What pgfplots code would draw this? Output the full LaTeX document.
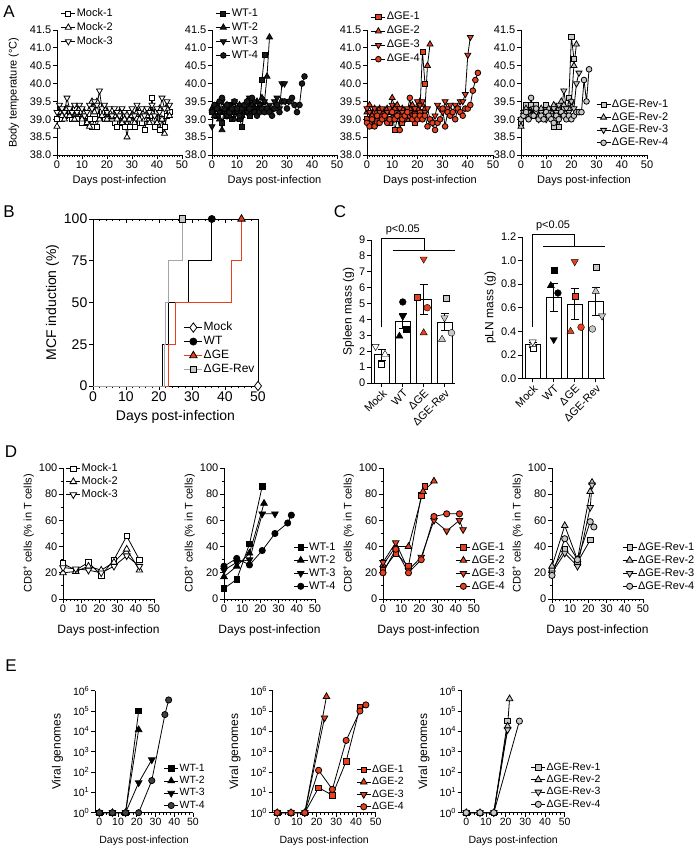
\documentclass[border=0pt]{standalone}
\usepackage{fontspec}
\setmainfont{Liberation Sans}
\usepackage{pgfplots}
\pgfplotsset{compat=1.18}
\definecolor{gred}{RGB}{232,64,28}
\definecolor{ggray}{RGB}{200,200,200}
\definecolor{lgray}{RGB}{165,165,165}
\definecolor{wtc}{RGB}{25,25,25}
\newcommand{\fs}[1]{\fontsize{#1}{#1}\selectfont}
\def\mscale{1}
\pgfplotsset{
  SQ/.style={mark=square*, mark size=2.4pt, every mark/.append style={fill=#1, draw=black, solid, scale=\mscale}},
  TR/.style={mark=triangle*, mark size=3.3pt, every mark/.append style={fill=#1, draw=black, solid, scale=\mscale}},
  IT/.style={mark=triangle*, mark size=3.3pt, every mark/.append style={fill=#1, draw=black, solid, rotate=180, scale=\mscale}},
  CI/.style={mark=*, mark size=2.7pt, every mark/.append style={fill=#1, draw=black, solid, scale=\mscale}},
  DI/.style={mark=diamond*, mark size=3.6pt, every mark/.append style={fill=#1, draw=black, solid, scale=\mscale}},
  LN/.style={black, line width=0.8pt},
  gp/.style={scale only axis, axis lines*=left, axis line style={line width=0.9pt, black},
    tick align=outside, tick style={line width=0.8pt, black},
    major tick length=4pt, minor tick length=2.3pt, clip=false,
    /pgf/number format/assume math mode=true,
    tick label style={font=\fs{11}, inner sep=1.5pt},
    label style={font=\fs{11}},
    legend style={draw=none, fill=none, font=\fs{11}, row sep=1.5pt, inner sep=0pt, anchor=north west,
      nodes={inner sep=1pt, text height=7.5pt, text depth=2pt}},
    legend cell align=left,
    legend image code/.code={\draw[mark repeat=2,mark phase=2,##1] plot coordinates {(0pt,0pt) (7pt,0pt) (14pt,0pt)};},
  },
  pA/.style={gp, anchor=south west, width=125pt, height=125pt, xmin=0, xmax=50, ymin=38, ymax=41.5,
    xtick={0,10,20,30,40,50}, minor x tick num=9, ytick={38,38.5,39,39.5,40,40.5,41,41.5},
    yticklabel style={/pgf/number format/fixed, /pgf/number format/fixed zerofill, /pgf/number format/precision=1},
    xlabel={Days post-infection}, xlabel style={yshift=-2pt}, legend style={row sep=2.5pt}},
  pC/.style={gp, anchor=south west, xtick={0,1,2,3}, xticklabels={Mock,WT,ΔGE,ΔGE-Rev},
    xticklabel style={rotate=45, anchor=north east, font=\fs{11}, inner sep=1pt},
    label style={font=\fs{12}}},
  pD/.style={gp, anchor=south west, width=91pt, height=131pt, xmin=0, xmax=50, ymin=0, ymax=100,
    xtick={0,10,20,30,40,50}, minor x tick num=4, ytick={0,20,40,60,80,100}, minor y tick num=1,
    xlabel={Days post-infection}, xlabel style={font=\fs{12}, yshift=-7pt},
    ylabel={CD8\textsuperscript{+} cells (\% in T cells)}, legend style={row sep=1.5pt}},
  pE/.style={gp, anchor=south west, height=122pt, xmin=-2.3, xmax=50, ymin=1, ymax=1000000,
    xtick={0,10,20,30,40,50}, minor x tick num=4,
    ytick={1,10,100,1000,10000,100000,1000000},
    yticklabels={10\textsuperscript{0},10\textsuperscript{1},10\textsuperscript{2},10\textsuperscript{3},10\textsuperscript{4},10\textsuperscript{5},10\textsuperscript{6}},
    yminorticks=false, tick label style={font=\fs{10.5}},
    xlabel={Days post-infection}, xlabel style={font=\fs{10.5}, yshift=-5pt}, ylabel={Viral genomes}, ylabel style={font=\fs{12}},
    ylabel shift=5pt, legend style={font=\fs{10.5}, row sep=0.8pt}},
}
\begin{document}
\begin{tikzpicture}
\path[use as bounding box] (0,0) rectangle (700pt,847pt);
\node[font=\fs{17}] at (9pt,835pt) {A};
\node[font=\fs{17}] at (9pt,635pt) {B};
\node[font=\fs{17}] at (340pt,635pt) {C};
\node[font=\fs{17}] at (11pt,395pt) {D};
\node[font=\fs{17}] at (11pt,181pt) {E};

% ================= A =================
\def\mscale{1.05}
\begin{axis}[pA, at={(57pt,692pt)}, ylabel={Body temperature (°C)}, ylabel style={font=\fs{11}}, ylabel shift=6pt,
  legend style={at={(0.03,1.18)}}]
\addplot[LN, SQ=white] coordinates {(0,39.0)(1,39.2)(2,39.0)(3,39.1)(4,39.3)(5,39.2)(6,39.0)(7,39.3)(8,39.0)(9,39.2)(10,38.9)(11,39.1)(12,38.9)(13,39.0)(14,38.8)(15,39.0)(16,38.8)(17,39.1)(18,39.2)(19,39.0)(20,39.2)(21,39.0)(22,39.1)(23,38.9)(24,38.8)(25,39.1)(26,38.9)(27,38.8)(28,39.0)(29,38.8)(30,39.1)(31,38.8)(32,39.0)(33,38.9)(34,38.9)(35,38.7)(36,39.0)(37,39.1)(38,39.6)(39,38.8)(40,39.2)(41,38.7)(42,39.0)(43,38.8)(44,39.1)(45,39.2)};
\addlegendentry{Mock-1}
\addplot[LN, TR=white] coordinates {(0,38.8)(1,39.2)(2,39.1)(3,39.0)(4,39.3)(5,39.1)(6,39.2)(7,39.0)(8,39.2)(9,39.3)(10,39.0)(11,39.2)(12,38.9)(13,38.8)(14,39.5)(15,39.2)(16,39.5)(17,39.0)(18,39.1)(19,39.3)(20,39.0)(21,39.2)(22,39.0)(23,39.1)(24,39.0)(25,39.2)(26,38.9)(27,39.0)(28,38.5)(29,39.0)(30,39.1)(31,38.9)(32,39.2)(33,39.0)(34,39.2)(35,39.0)(36,39.1)(37,38.9)(38,39.2)(39,39.0)(40,38.9)(41,39.3)(42,39.0)(43,38.6)(44,39.3)(45,39.1)};
\addlegendentry{Mock-2}
\addplot[LN, IT=white] coordinates {(0,39.2)(1,39.4)(2,39.3)(3,39.2)(4,39.6)(5,39.3)(6,39.2)(7,39.4)(8,39.2)(9,39.4)(10,39.3)(11,39.1)(12,39.2)(13,39.4)(14,39.3)(15,39.5)(16,39.4)(17,39.8)(18,39.3)(19,39.4)(20,39.2)(21,39.3)(22,39.1)(23,39.3)(24,39.2)(25,39.1)(26,39.3)(27,39.2)(28,39.1)(29,39.2)(30,39.3)(31,39.1)(32,39.4)(33,39.2)(34,39.3)(35,39.1)(36,39.3)(37,39.2)(38,39.4)(39,39.1)(40,39.3)(41,39.2)(42,39.6)(43,39.3)(44,39.5)(45,39.4)};
\addlegendentry{Mock-3}
\end{axis}

\begin{axis}[pA, at={(212pt,692pt)}, legend style={at={(0.03,1.18)}}]
\addplot[LN, SQ=wtc] coordinates {(0,39.2)(1,39.3)(2,39.1)(3,39.2)(4,38.9)(5,39.3)(6,39.1)(7,39.4)(8,39.0)(9,39.2)(10,39.3)(11,39.0)(12,38.8)(13,39.2)(14,39.3)(15,39.1)(16,39.4)(17,39.2)(18,39.3)(19,39.4)(20,40.1)(21,40.8)};
\addlegendentry{WT-1}
\addplot[LN, TR=wtc] coordinates {(0,39.3)(1,39.1)(2,39.4)(3,39.0)(4,38.7)(5,39.2)(6,39.4)(7,39.1)(8,39.3)(9,39.0)(10,39.2)(11,39.4)(12,39.1)(13,39.3)(14,39.5)(15,39.2)(16,39.4)(17,39.3)(18,39.5)(19,39.4)(20,39.6)(21,39.5)(22,40.2)(23,41.3)};
\addlegendentry{WT-2}
\addplot[LN, IT=wtc] coordinates {(0,38.8)(1,39.3)(2,39.4)(3,39.2)(4,39.5)(5,39.3)(6,39.1)(7,39.4)(8,39.3)(9,39.5)(10,39.2)(11,39.4)(12,39.1)(13,39.3)(14,39.2)(15,39.6)(16,39.3)(17,39.5)(18,39.2)(19,39.4)(20,39.3)(21,39.5)(22,39.3)(23,39.4)(24,39.3)(25,39.5)(26,39.6)(27,39.3)(28,40.0)(29,40.0)};
\addlegendentry{WT-3}
\addplot[LN, CI=wtc] coordinates {(0,39.2)(1,39.4)(2,39.3)(3,39.5)(4,39.6)(5,39.3)(6,39.4)(7,39.2)(8,39.3)(9,39.5)(10,39.3)(11,39.1)(12,39.3)(13,39.4)(14,39.5)(15,39.3)(16,39.6)(17,39.2)(18,39.1)(19,39.2)(20,39.3)(21,39.2)(22,39.3)(23,39.2)(24,39.1)(25,39.3)(26,39.4)(27,39.2)(28,39.5)(29,39.5)(30,39.3)(31,39.5)(32,39.6)(33,39.4)(34,39.2)(35,39.4)(36,40.0)(37,40.2)};
\addlegendentry{WT-4}
\end{axis}

\begin{axis}[pA, at={(367pt,692pt)}, width=126pt, legend style={at={(0.03,1.15)}}]
\addplot[LN, SQ=gred] coordinates {(0,39.0)(1,38.9)(2,39.1)(3,39.2)(4,38.9)(5,39.0)(6,39.1)(7,39.0)(8,39.2)(9,38.9)(10,39.2)(11,38.7)(12,39.0)(13,39.1)(14,38.9)(15,39.2)(16,39.0)(17,39.1)(18,39.2)(19,38.9)(20,39.3)(21,39.2)(22,40.9)(23,40.0)};
\addlegendentry{ΔGE-1}
\addplot[LN, TR=gred] coordinates {(0,39.2)(1,39.4)(2,39.1)(3,39.3)(4,39.0)(5,39.3)(6,39.2)(7,39.1)(8,39.3)(9,39.2)(10,39.6)(11,39.3)(12,39.4)(13,39.2)(14,39.3)(15,39.1)(16,39.2)(17,39.3)(18,39.4)(19,39.2)(20,39.3)(21,39.5)(22,39.4)(23,39.3)(24,40.5)(25,41.1)};
\addlegendentry{ΔGE-2}
\addplot[LN, IT=gred] coordinates {(0,39.3)(1,39.2)(2,39.0)(3,39.3)(4,39.1)(5,39.2)(6,39.3)(7,39.0)(8,39.2)(9,39.3)(10,39.4)(11,39.2)(12,39.1)(13,39.3)(14,39.2)(15,39.0)(16,39.3)(17,39.2)(18,39.1)(19,39.3)(20,39.5)(21,39.4)(22,39.5)(23,39.2)(24,39.3)(25,39.0)(26,38.9)(27,39.1)(28,39.4)(29,39.3)(30,39.2)(31,39.5)(32,39.3)(33,39.4)(34,39.2)(35,39.4)(36,39.3)(37,39.5)(38,39.5)(39,39.7)(40,40.8)(41,41.3)};
\addlegendentry{ΔGE-3}
\addplot[LN, CI=gred] coordinates {(0,38.9)(1,38.8)(2,39.0)(3,38.8)(4,39.1)(5,38.9)(6,39.0)(7,39.1)(8,38.9)(9,39.0)(10,39.2)(11,39.0)(12,39.1)(13,38.7)(14,39.0)(15,39.1)(16,39.2)(17,39.6)(18,39.0)(19,39.1)(20,39.0)(21,39.1)(22,39.0)(23,39.1)(24,38.8)(25,39.0)(26,38.9)(27,38.7)(28,38.9)(29,39.0)(30,39.3)(31,38.8)(32,39.2)(33,39.1)(34,39.2)(35,39.0)(36,39.3)(37,39.2)(38,39.1)(39,39.3)(40,39.3)(41,39.4)(42,39.8)(43,40.1)(44,40.3)};
\addlegendentry{ΔGE-4}
\end{axis}

\begin{axis}[pA, at={(521pt,692pt)}, width=126pt, legend style={at={(0.595,0.45)}, row sep=1.2pt}]
\addplot[LN, SQ=ggray] coordinates {(0,38.9)(1,39.1)(2,39.4)(3,39.2)(4,39.4)(5,39.1)(6,39.4)(7,39.2)(8,39.1)(9,39.2)(10,39.4)(11,39.2)(12,39.1)(13,38.8)(14,39.0)(15,38.8)(16,39.2)(17,39.3)(18,39.1)(19,39.6)(20,41.3)(21,40.7)};
\addlegendentry{ΔGE-Rev-1}
\addplot[LN, TR=ggray] coordinates {(0,38.8)(1,39.2)(2,39.3)(3,39.2)(4,39.1)(5,39.3)(6,39.2)(7,39.1)(8,39.3)(9,39.2)(10,39.1)(11,39.3)(12,39.2)(13,39.4)(14,39.1)(15,39.3)(16,39.5)(17,39.4)(18,39.2)(19,39.3)(20,39.5)(21,40.5)(22,41.1)};
\addlegendentry{ΔGE-Rev-2}
\addplot[LN, IT=ggray] coordinates {(0,39.0)(1,39.2)(2,39.1)(3,39.2)(4,39.1)(5,39.3)(6,39.2)(7,39.0)(8,39.2)(9,39.1)(10,39.0)(11,39.2)(12,39.1)(13,39.3)(14,39.2)(15,39.4)(16,39.2)(17,39.8)(18,39.3)(19,39.2)(20,39.5)(21,39.3)(22,40.0)(23,40.3)};
\addlegendentry{ΔGE-Rev-3}
\addplot[LN, CI=ggray] coordinates {(0,39.0)(1,39.1)(2,39.2)(3,39.0)(4,39.6)(5,39.1)(6,39.3)(7,39.0)(8,39.1)(9,39.0)(10,39.2)(11,39.1)(12,39.0)(13,38.9)(14,39.1)(15,39.0)(16,39.2)(17,39.1)(18,39.0)(19,39.1)(20,39.0)(21,39.1)(22,39.2)(23,39.2)(24,39.2)(25,40.1)(26,39.5)(27,40.4)};
\addlegendentry{ΔGE-Rev-4}
\end{axis}

% ================= B =================
\def\mscale{1.3}
\begin{axis}[scale only axis, anchor=south west, at={(93pt,461pt)}, width=165pt, height=167pt,
  xmin=0, xmax=50, ymin=0, ymax=100, axis x line*=top, axis y line*=right,
  xtick={0,10,20,30,40,50}, minor x tick num=4, ytick=\empty, xticklabels={},
  tick align=inside, axis line style={line width=0.9pt}, tick style={line width=0.8pt, black},
  major tick length=4pt, minor tick length=2.3pt]
\end{axis}
\begin{axis}[gp, anchor=south west, at={(93pt,461pt)}, width=165pt, height=167pt,
  xmin=0, xmax=50, ymin=0, ymax=100, xtick={0,10,20,30,40,50}, minor x tick num=4,
  ytick={0,25,50,75,100}, tick label style={font=\fs{14}}, label style={font=\fs{14}},
  xlabel={Days post-infection}, ylabel={MCF induction (\%)}, xlabel style={yshift=-4pt},
  legend style={at={(0.55,0.39)}, font=\fs{12}, row sep=1pt, nodes={inner sep=1pt, text height=8.5pt, text depth=2.5pt}},
  legend image code/.code={\draw[mark repeat=2,mark phase=2,#1] plot coordinates {(0pt,0pt) (9pt,0pt) (18pt,0pt)};}]
\addplot[LN, DI=white, mark indices={2}, forget plot] coordinates {(0,0) (50,0)};
\addplot[LN, CI=black, const plot, mark indices={5}, forget plot] coordinates {(0,0) (21,25) (23,50) (29,75) (36,100)};
\addplot[gred, line width=0.8pt, TR=gred, const plot, mark indices={5}, forget plot] coordinates {(0,0) (23,25) (25,50) (42,75) (45,100)};
\addplot[lgray, line width=0.8pt, SQ=ggray, const plot, mark indices={5}, forget plot] coordinates {(0,0) (21.5,25) (22,50) (23,75) (27,100)};
\addlegendimage{LN, DI=white}
\addlegendentry{Mock}
\addlegendimage{LN, CI=black}
\addlegendentry{WT}
\addlegendimage{gred, line width=0.8pt, TR=gred}
\addlegendentry{ΔGE}
\addlegendimage{lgray, line width=0.8pt, SQ=ggray}
\addlegendentry{ΔGE-Rev}
\end{axis}

% ================= C =================
\def\mscale{1.25}
\begin{axis}[pC, at={(371pt,464pt)}, width=84pt, height=143pt, xmin=-0.52, xmax=3.5, ymin=0, ymax=9,
  ytick={0,1,2,3,4,5,6,7,8,9}, ylabel={Spleen mass (g)}]
\addplot[ybar, bar width=15pt, fill=white, draw=black, line width=0.8pt] coordinates {(0,1.77) (1,3.9) (2,5.28) (3,3.84)};
\addplot[draw=none, mark=none, forget plot, error bars/.cd, y dir=both, y explicit,
  error bar style={line width=0.8pt, black}, error mark options={rotate=90, mark size=4pt, line width=0.8pt, black}]
  coordinates {(0,1.77) +- (0,0.33) (1,3.9) +- (0,0.45) (2,5.28) +- (0,0.95) (3,3.84) +- (0,0.55)};
\addplot[only marks, SQ=white] coordinates {(-0.05,1.2)};
\addplot[only marks, TR=white] coordinates {(0.15,1.8)};
\addplot[only marks, IT=white] coordinates {(-0.3,2.3)};
\addplot[only marks, SQ=black] coordinates {(1.16,3.4)};
\addplot[only marks, TR=black] coordinates {(0.84,2.95)};
\addplot[only marks, IT=black] coordinates {(1.0,4.2)};
\addplot[only marks, CI=black] coordinates {(1.0,5.1)};
\addplot[only marks, SQ=gred] coordinates {(1.68,5.4)};
\addplot[only marks, TR=gred] coordinates {(2.0,3.16)};
\addplot[only marks, IT=gred] coordinates {(2.0,7.8)};
\addplot[only marks, CI=gred] coordinates {(2.17,4.74)};
\addplot[only marks, SQ=ggray] coordinates {(3.1,5.35)};
\addplot[only marks, TR=ggray] coordinates {(2.88,2.75)};
\addplot[only marks, IT=ggray] coordinates {(3.0,4.1)};
\addplot[only marks, CI=ggray] coordinates {(3.33,3.16)};
\draw[line width=0.8pt] (axis cs:0,3.5) -- (axis cs:0,9.1) -- (axis cs:2.05,9.1) -- (axis cs:2.05,8.35);
\draw[line width=0.8pt] (axis cs:0.52,8.35) -- (axis cs:3.5,8.35);
\node[font=\fs{11}, anchor=south] at (axis cs:1.0,9.1) {p<0.05};
\end{axis}

\begin{axis}[pC, at={(522pt,468.5pt)}, width=83pt, height=141.5pt, xmin=-0.51, xmax=3.44, ymin=0, ymax=1.2,
  ytick={0,0.2,0.4,0.6,0.8,1.0,1.2},
  yticklabel style={/pgf/number format/fixed, /pgf/number format/fixed zerofill, /pgf/number format/precision=1},
  ylabel={pLN mass (g)}]
\addplot[ybar, bar width=15pt, fill=white, draw=black, line width=0.8pt] coordinates {(0,0.285) (1,0.69) (2,0.63) (3,0.655)};
\addplot[draw=none, mark=none, forget plot, error bars/.cd, y dir=both, y explicit,
  error bar style={line width=0.8pt, black}, error mark options={rotate=90, mark size=4pt, line width=0.8pt, black}]
  coordinates {(0,0.285) +- (0,0.02) (1,0.69) +- (0,0.12) (2,0.63) +- (0,0.13) (3,0.655) +- (0,0.12)};
\addplot[only marks, SQ=white] coordinates {(0,0.257)};
\addplot[only marks, TR=white] coordinates {(0,0.29)};
\addplot[only marks, IT=white] coordinates {(0,0.31)};
\addplot[only marks, SQ=black] coordinates {(1.0,0.917)};
\addplot[only marks, TR=black] coordinates {(0.86,0.787)};
\addplot[only marks, IT=black] coordinates {(1.0,0.33)};
\addplot[only marks, CI=black] coordinates {(1.2,0.725)};
\addplot[only marks, SQ=gred] coordinates {(2.0,0.70)};
\addplot[only marks, TR=gred] coordinates {(1.8,0.40)};
\addplot[only marks, IT=gred] coordinates {(2.0,0.99)};
\addplot[only marks, CI=gred] coordinates {(2.3,0.435)};
\addplot[only marks, SQ=ggray] coordinates {(3.0,0.94)};
\addplot[only marks, TR=ggray] coordinates {(3.0,0.74)};
\addplot[only marks, IT=ggray] coordinates {(3.3,0.53)};
\addplot[only marks, CI=ggray] coordinates {(2.84,0.42)};
\draw[line width=0.8pt] (axis cs:0,0.44) -- (axis cs:0,1.22) -- (axis cs:2.0,1.22) -- (axis cs:2.0,1.12);
\draw[line width=0.8pt] (axis cs:0.49,1.12) -- (axis cs:3.44,1.12);
\node[font=\fs{11}, anchor=south] at (axis cs:0.97,1.22) {p<0.05};
\end{axis}

% ================= D =================
\def\mscale{1.15}
\begin{axis}[pD, at={(63pt,248pt)}, legend style={at={(0.03,1.04)}}]
\addplot[LN, SQ=white] coordinates {(0,27)(7,22)(14,28)(21,18)(28,30)(35,48)(42,30)};
\addlegendentry{Mock-1}
\addplot[LN, TR=white] coordinates {(0,20)(7,21)(14,25)(21,22)(28,28)(35,38)(42,22)};
\addlegendentry{Mock-2}
\addplot[LN, IT=white] coordinates {(0,24)(7,23)(14,22)(21,20)(28,25)(35,33)(42,25)};
\addlegendentry{Mock-3}
\end{axis}

\begin{axis}[pD, at={(224pt,248pt)}, legend style={at={(0.76,0.44)}}]
\addplot[LN, SQ=black] coordinates {(0,8)(7,15)(14,42)(21,86)};
\addlegendentry{WT-1}
\addplot[LN, TR=black] coordinates {(0,17)(7,25)(14,35)(22,73)};
\addlegendentry{WT-2}
\addplot[LN, IT=black] coordinates {(0,22)(7,28)(14,30)(21,65)(28,65)};
\addlegendentry{WT-3}
\addplot[LN, CI=black] coordinates {(0,25)(7,31)(14,26)(21,37)(28,50)(35,58)(37,64)};
\addlegendentry{WT-4}
\end{axis}

\begin{axis}[pD, at={(383pt,248pt)}, legend style={at={(0.80,0.44)}}]
\addplot[LN, SQ=gred] coordinates {(0,22)(7,35)(14,25)(21,79)(23,86)};
\addlegendentry{ΔGE-1}
\addplot[LN, TR=gred] coordinates {(0,26)(7,40)(14,40)(22,82)(28,90)};
\addlegendentry{ΔGE-2}
\addplot[LN, IT=gred] coordinates {(0,28)(7,43)(14,22)(21,32)(28,60)(35,52)(42,60)(44,53)};
\addlegendentry{ΔGE-3}
\addplot[LN, CI=gred] coordinates {(0,20)(7,38)(14,20)(21,30)(28,63)(35,65)(42,65)};
\addlegendentry{ΔGE-4}
\end{axis}

\begin{axis}[pD, at={(552pt,248pt)}, legend style={at={(0.77,0.44)}}]
\addplot[LN, SQ=ggray] coordinates {(0,22)(7,38)(14,28)(21,45)};
\addlegendentry{ΔGE-Rev-1}
\addplot[LN, TR=ggray] coordinates {(0,25)(7,56)(14,30)(21,82)(22,89)};
\addlegendentry{ΔGE-Rev-2}
\addplot[LN, IT=ggray] coordinates {(0,20)(7,35)(14,25)(21,70)(22,87)};
\addlegendentry{ΔGE-Rev-3}
\addplot[LN, CI=ggray] coordinates {(0,18)(7,46)(14,30)(21,59)(23,55)};
\addlegendentry{ΔGE-Rev-4}
\end{axis}

% ================= E =================
\def\mscale{1.15}
\begin{semilogyaxis}[pE, at={(95pt,34.3pt)}, width=98pt, legend style={at={(0.70,0.41)}}]
\addplot[LN, SQ=black] coordinates {(0,1)(7,1)(14,1)(21,100000)};
\addlegendentry{WT-1}
\addplot[LN, TR=black] coordinates {(0,1)(7,1)(14,1)(21,12000)};
\addlegendentry{WT-2}
\addplot[LN, IT=black] coordinates {(0,1)(7,1)(14,1)(21,30)(28,400)};
\addlegendentry{WT-3}
\addplot[LN, CI=black!75] coordinates {(0,1)(7,1)(14,1)(21,1)(28,38)(35,67000)(37,350000)};
\addlegendentry{WT-4}
\end{semilogyaxis}

\begin{semilogyaxis}[pE, at={(272.7pt,34.3pt)}, width=103pt, legend style={at={(0.81,0.40)}}]
\addplot[LN, SQ=gred] coordinates {(0,1)(7,1)(14,1)(21,17)(28,7.3)(35,340)(42,150000)};
\addlegendentry{ΔGE-1}
\addplot[LN, TR=gred] coordinates {(0,1)(7,1)(14,1)(25,510000)};
\addlegendentry{ΔGE-2}
\addplot[LN, IT=gred] coordinates {(0,1)(7,1)(14,1)(24,46000)};
\addlegendentry{ΔGE-3}
\addplot[LN, CI=gred] coordinates {(0,1)(7,1)(14,1)(21,122)(28,14)(35,3600)(42,100000)(45,200000)};
\addlegendentry{ΔGE-4}
\end{semilogyaxis}

\begin{semilogyaxis}[pE, at={(461.7pt,34.3pt)}, width=103pt, legend style={at={(0.67,0.42)}}]
\addplot[LN, SQ=ggray] coordinates {(0,1)(7,1)(14,1)(21,32000)};
\addlegendentry{ΔGE-Rev-1}
\addplot[LN, TR=ggray] coordinates {(0,1)(7,1)(14,1)(21,18000)(22,400000)};
\addlegendentry{ΔGE-Rev-2}
\addplot[LN, IT=ggray] coordinates {(0,1)(7,1)(14,1)(21,12000)};
\addlegendentry{ΔGE-Rev-3}
\addplot[LN, CI=ggray] coordinates {(0,1)(7,1)(14,1)(27,32000)};
\addlegendentry{ΔGE-Rev-4}
\end{semilogyaxis}
\end{tikzpicture}
\end{document}
